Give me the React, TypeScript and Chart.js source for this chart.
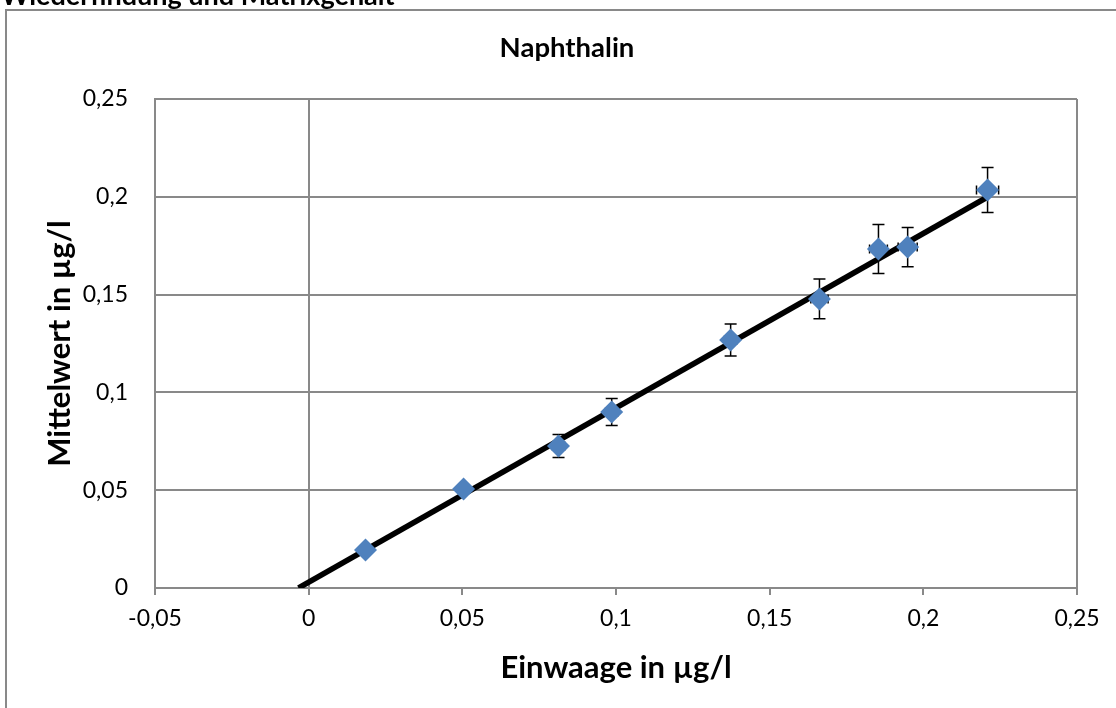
import React, { useEffect, useRef } from "react";
import { Chart, registerables } from "chart.js";

Chart.register(...registerables);

const sheetTitle = "Wiederfindung und Matrixgehalt";
const chartTitle = "Naphthalin";
const xAxisTitle = "Einwaage in µg/l";
const yAxisTitle = "Mittelwert in µg/l";

const einwaage = [0.0185, 0.0504, 0.0813, 0.0986, 0.1373, 0.1662, 0.1854, 0.1949, 0.2209];
const mittelwert = [0.0194, 0.0506, 0.0726, 0.09, 0.1268, 0.1478, 0.1733, 0.1743, 0.2035];
const yError = [0.001, 0.002, 0.0059, 0.0069, 0.0082, 0.0102, 0.0125, 0.01, 0.0115];
const xError = [0.001, 0.001, 0.002, 0.002, 0.002, 0.0028, 0.0029, 0.0031, 0.0036];

const trendX = [-0.0033, 0.2209];
const trendY = [0, 0.1999];

const xTicks = [-0.05, 0, 0.05, 0.1, 0.15, 0.2, 0.25];
const xTickLabels = ["-0,05", "0", "0,05", "0,1", "0,15", "0,2", "0,25"];
const yTicks = [0, 0.05, 0.1, 0.15, 0.2, 0.25];
const yTickLabels = ["0", "0,05", "0,1", "0,15", "0,2", "0,25"];

const FONT = "Lato, 'Open Sans', sans-serif";
const GRID = "#898989";
const MARKER = "#4F81BD";

export default function App() {
  const ref = useRef<HTMLCanvasElement | null>(null);

  useEffect(() => {
    if (!ref.current) return;

    const errorBars = {
      id: "errorBars",
      beforeDatasetsDraw(chart: any) {
        const { ctx, scales } = chart;
        const xs = scales.x;
        const ys = scales.y;
        ctx.save();
        ctx.strokeStyle = "#000";
        ctx.lineWidth = 1.5;
        for (let i = 0; i < einwaage.length; i++) {
          const cx = xs.getPixelForValue(einwaage[i]);
          const cy = ys.getPixelForValue(mittelwert[i]);
          const yt = ys.getPixelForValue(mittelwert[i] + yError[i]);
          const yb = ys.getPixelForValue(mittelwert[i] - yError[i]);
          const xl = xs.getPixelForValue(einwaage[i] - xError[i]);
          const xr = xs.getPixelForValue(einwaage[i] + xError[i]);
          ctx.beginPath();
          ctx.moveTo(cx, yt);
          ctx.lineTo(cx, yb);
          ctx.moveTo(cx - 6, yt);
          ctx.lineTo(cx + 6, yt);
          ctx.moveTo(cx - 6, yb);
          ctx.lineTo(cx + 6, yb);
          ctx.moveTo(xl, cy);
          ctx.lineTo(xr, cy);
          ctx.moveTo(xl, cy - 4.5);
          ctx.lineTo(xl, cy + 4.5);
          ctx.moveTo(xr, cy - 4.5);
          ctx.lineTo(xr, cy + 4.5);
          ctx.stroke();
        }
        ctx.restore();
      },
    };

    const titlePlugin = {
      id: "chartTitleText",
      afterDraw(chart: any) {
        const { ctx } = chart;
        ctx.save();
        ctx.font = `bold 27.5px ${FONT}`;
        ctx.fillStyle = "#000";
        ctx.textAlign = "center";
        ctx.textBaseline = "alphabetic";
        ctx.fillText(chartTitle, 567, 57);
        ctx.restore();
      },
    };

    const chart = new Chart(ref.current, {
      type: "scatter",
      data: {
        datasets: [
          {
            label: "Mittelwert",
            data: einwaage.map((x, i) => ({ x, y: mittelwert[i] })),
            pointStyle: "rectRot",
            pointRadius: 11.5,
            pointBackgroundColor: MARKER,
            pointBorderColor: MARKER,
            pointBorderWidth: 0,
            showLine: false,
          },
          {
            label: "Trend",
            type: "line",
            data: trendX.map((x, i) => ({ x, y: trendY[i] })),
            borderColor: "#000",
            borderWidth: 5.5,
            pointRadius: 0,
            fill: false,
          },
        ],
      },
      options: {
        responsive: false,
        animation: false,
        devicePixelRatio: 1,
        layout: { padding: { top: 99, right: 39, bottom: 0, left: 0 } },
        plugins: {
          legend: { display: false },
          tooltip: { enabled: false },
          title: { display: false },
        },
        scales: {
          x: {
            type: "linear",
            min: -0.05,
            max: 0.25,
            afterBuildTicks: (s: any) => {
              s.ticks = xTicks.map((v) => ({ value: v }));
            },
            afterFit: (s: any) => {
              s.height = 120;
            },
            ticks: {
              callback: (_v: any, i: number) => xTickLabels[i],
              font: { family: FONT, size: 23 },
              color: "#000",
              padding: 10,
              maxRotation: 0,
              autoSkip: false,
            },
            grid: {
              color: (c: any) =>
                c.tick && (Math.abs(c.tick.value) < 1e-9 || Math.abs(c.tick.value - 0.25) < 1e-9)
                  ? GRID
                  : "rgba(0,0,0,0)",
              lineWidth: 2,
              tickColor: GRID,
              tickLength: 7,
            },
            border: { display: true, color: GRID, width: 2 },
            title: {
              display: true,
              text: xAxisTitle,
              color: "#000",
              font: { family: FONT, size: 31, weight: "bold" },
              padding: { top: 0, bottom: 21 },
            },
          },
          y: {
            type: "linear",
            min: 0,
            max: 0.25,
            afterBuildTicks: (s: any) => {
              s.ticks = yTicks.map((v) => ({ value: v }));
            },
            afterFit: (s: any) => {
              s.width = 155;
            },
            ticks: {
              callback: (_v: any, i: number) => yTickLabels[i],
              font: { family: FONT, size: 23 },
              color: "#000",
              padding: 27,
            },
            grid: {
              color: GRID,
              lineWidth: 2,
              drawTicks: false,
            },
            border: { display: true, color: GRID, width: 2 },
            title: {
              display: true,
              text: yAxisTitle,
              color: "#000",
              font: { family: FONT, size: 31, weight: "bold" },
              padding: { top: 41, bottom: 0 },
            },
          },
        },
      } as any,
      plugins: [errorBars, titlePlugin],
    });

    return () => chart.destroy();
  }, []);

  return (
    <div
      style={{
        position: "fixed",
        left: 0,
        top: 0,
        width: 1116,
        height: 708,
        overflow: "hidden",
        background: "#fff",
      }}
    >
      <div
        style={{
          position: "absolute",
          left: 5,
          top: 9,
          width: 1300,
          height: 900,
          border: `2px solid ${GRID}`,
          boxSizing: "border-box",
        }}
      />
      <canvas
        ref={ref}
        width={1116}
        height={708}
        style={{ position: "absolute", left: 0, top: 0, width: 1116, height: 708 }}
      />
      <div
        style={{
          position: "absolute",
          left: 1,
          top: -19,
          fontFamily: FONT,
          fontWeight: "bold",
          fontSize: 27,
          lineHeight: "27px",
          whiteSpace: "nowrap",
          color: "#000",
        }}
      >
        {sheetTitle}
      </div>
    </div>
  );
}
